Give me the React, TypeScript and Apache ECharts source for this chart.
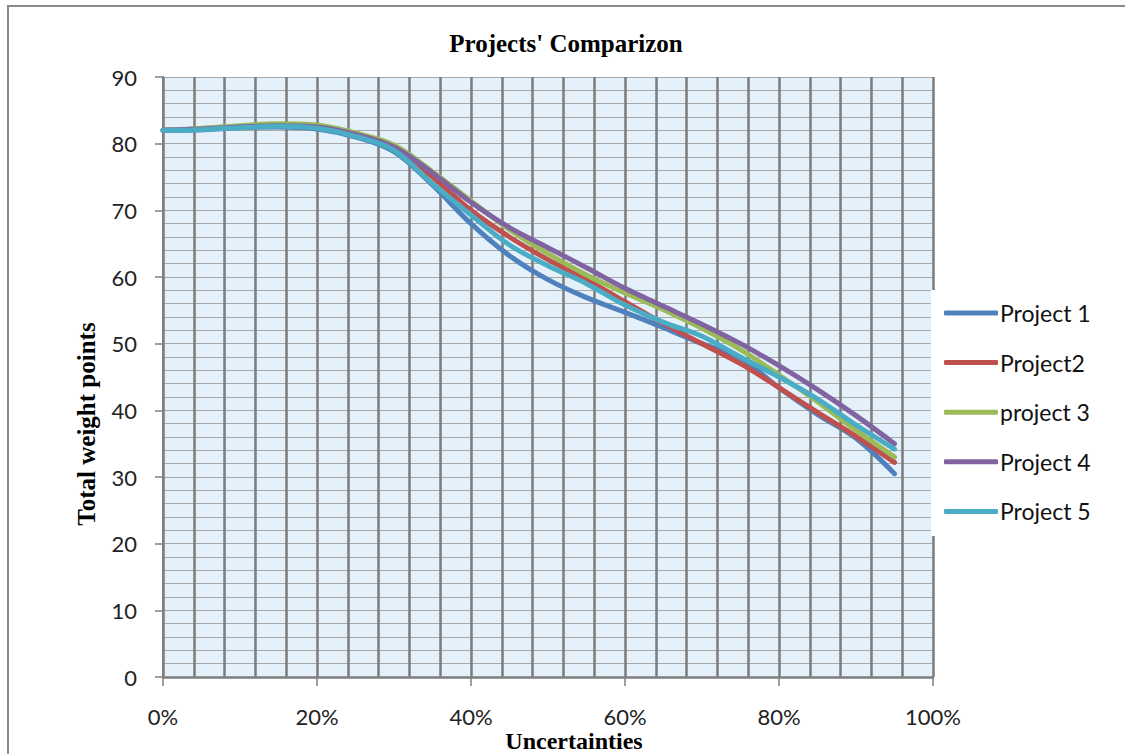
import React, { useEffect, useRef } from "react";
import * as echarts from "echarts";

const xValues = [0, 5, 10, 15, 20, 25, 30, 35, 40, 45, 50, 55, 60, 65, 70, 75, 80, 85, 90, 95];

const seriesNames = ["Project 1", "Project2", "project 3", "Project 4", "Project 5"];
const seriesColors = ["#4F81BD", "#C0504D", "#9BBB59", "#8064A2", "#4BACC6"];

const project1 = [82.0, 82.1, 82.4, 82.5, 82.2, 81.0, 78.8, 73.8, 68.0, 63.2, 59.6, 56.9, 54.7, 52.4, 50.0, 47.8, 43.4, 39.4, 35.8, 30.5];
const project2 = [82.0, 82.2, 82.5, 82.7, 82.4, 81.2, 79.3, 75.0, 70.0, 66.0, 62.6, 59.6, 56.3, 53.0, 50.0, 47.0, 43.4, 39.7, 36.1, 32.2];
const project3 = [82.0, 82.3, 82.7, 83.0, 82.8, 81.6, 79.8, 75.8, 71.4, 67.1, 63.5, 60.3, 57.6, 55.1, 52.3, 49.1, 45.3, 41.3, 37.0, 33.0];
const project4 = [82.0, 82.2, 82.5, 82.7, 82.5, 81.4, 79.5, 75.6, 71.2, 67.4, 64.4, 61.4, 58.3, 55.6, 52.9, 50.0, 46.7, 43.1, 39.2, 35.0];
const project5 = [82.0, 82.1, 82.4, 82.6, 82.3, 81.1, 79.0, 74.0, 69.3, 64.8, 61.7, 59.0, 55.8, 53.2, 51.1, 48.0, 45.0, 41.7, 37.8, 34.2];

const allSeries = [project1, project2, project3, project4, project5];

const yTicks = { min: 0, max: 90, interval: 10 };
const xTicks = { min: 0, max: 100, interval: 20 };

const titleText = "Projects' Comparizon";
const yAxisTitle = "Total weight points";
const xAxisTitle = "Uncertainties";

export default function App() {
  const ref = useRef<HTMLDivElement>(null);
  useEffect(() => {
    if (!ref.current) return;
    const chart = echarts.init(ref.current, null, { renderer: "svg" });
    const labelFont = "Lato, 'Open Sans', sans-serif";
    const serif = "'Liberation Serif', 'DejaVu Serif', serif";
    chart.setOption({
      animation: false,
      backgroundColor: "#ffffff",
      grid: {
        left: 163,
        right: 192,
        top: 77,
        bottom: 77,
        show: true,
        backgroundColor: "#e4f0fa",
        borderWidth: 0,
      },
      xAxis: {
        type: "value",
        min: xTicks.min,
        max: xTicks.max,
        interval: xTicks.interval,
        axisLine: { show: true, lineStyle: { color: "#7f7f7f", width: 2.5 } },
        axisTick: { show: true, length: 9, lineStyle: { color: "#7f7f7f", width: 1.5 } },
        axisLabel: {
          formatter: "{value}%",
          fontFamily: labelFont,
          fontSize: 22,
          lineHeight: 22,
          color: "#222",
          margin: 28,
        },
        splitLine: { show: true, lineStyle: { color: "#7c7c7c", width: 2.5 } },
        minorTick: { show: false, splitNumber: 5 },
        minorSplitLine: { show: true, lineStyle: { color: "#7c7c7c", width: 2.5 } },
      },
      yAxis: {
        type: "value",
        min: yTicks.min,
        max: yTicks.max,
        interval: yTicks.interval,
        axisLine: { show: true, lineStyle: { color: "#7f7f7f", width: 2 } },
        axisTick: { show: true, length: 8, lineStyle: { color: "#7f7f7f", width: 1.5 } },
        axisLabel: {
          fontFamily: labelFont,
          fontSize: 22,
          color: "#222",
          margin: 26,
        },
        splitLine: { show: true, lineStyle: { color: "#a8a8a8", width: 1 } },
        minorTick: { show: false, splitNumber: 5 },
        minorSplitLine: { show: true, lineStyle: { color: "#a8a8a8", width: 1 } },
      },
      legend: {
        show: true,
        orient: "vertical",
        left: 944,
        top: 301,
        padding: 0,
        itemWidth: 54,
        itemHeight: 5,
        itemGap: 25.6,
        icon: "roundRect",
        selectedMode: false,
        data: seriesNames,
        textStyle: {
          fontFamily: labelFont,
          fontSize: 23,
          color: "#111",
          lineHeight: 24,
          padding: [0, 0, 0, -3],
        },
        z: 20,
      },
      series: allSeries.map((vals, i) => ({
        name: seriesNames[i],
        type: "line",
        smooth: 0.35,
        showSymbol: false,
        symbol: "none",
        data: xValues.map((x, j) => [x, vals[j]]),
        lineStyle: { color: seriesColors[i], width: 5, cap: "round" },
        itemStyle: { color: seriesColors[i] },
        z: 3 + i,
      })),
      graphic: [
        {
          type: "rect",
          z: 10,
          shape: { x: 931, y: 290, width: 200, height: 246 },
          style: { fill: "#ffffff", stroke: null },
        },
        {
          type: "rect",
          z: 30,
          shape: { x: 8, y: 6, width: 1130, height: 760 },
          style: { fill: "none", stroke: "#8a8a8a", lineWidth: 2 },
        },
        {
          type: "text",
          z: 30,
          x: 566,
          y: 43,
          style: {
            text: titleText,
            fontFamily: serif,
            fontWeight: "bold",
            fontSize: 25,
            fill: "#000",
            align: "center",
            verticalAlign: "middle",
          },
        },
        {
          type: "text",
          z: 30,
          x: 86,
          y: 424,
          rotation: Math.PI / 2,
          style: {
            text: yAxisTitle,
            fontFamily: serif,
            fontWeight: "bold",
            fontSize: 25,
            fill: "#000",
            align: "center",
            verticalAlign: "middle",
          },
        },
        {
          type: "text",
          z: 30,
          x: 574,
          y: 741,
          style: {
            text: xAxisTitle,
            fontFamily: serif,
            fontWeight: "bold",
            fontSize: 24,
            lineHeight: 24,
            fill: "#000",
            align: "center",
            verticalAlign: "middle",
          },
        },
      ],
    });
    return () => chart.dispose();
  }, []);
  return (
    <div
      ref={ref}
      style={{ position: "absolute", left: 0, top: 0, width: 1125, height: 754 }}
    />
  );
}
